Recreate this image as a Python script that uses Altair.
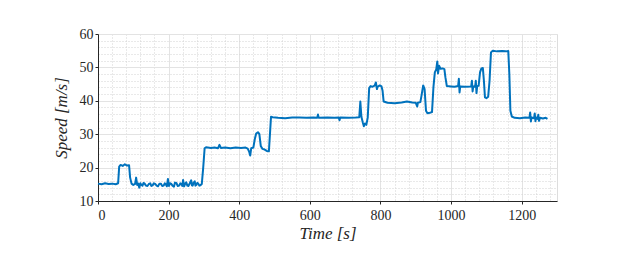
import altair as alt
import pandas as pd

times = [0,10,20,30,40,50,57,
         60,64,70,76,82,88,91,95,
         100,105,108,111,114,117,120,123,126,129,132,136,140,144,148,151,155,158,162,166,170,174,178,182,186,189,192,195,198,201,204,207,211,215,218,222,226,230,233,236,239,241,244,247,250,253,256,260,264,266,268,271,274,276,278,281,284,287,290,294,
         298,302,306,320,330,340,344,348,360,375,390,405,418,424,428,431,434,440,444,448,453,457,461,466,472,478,484,
         487,490,495,510,530,550,570,590,610,621,623,625,650,670,682,684,686,710,730,740,743,746,750,753,756,760,764,
         768,772,778,784,787,790,792,798,803,806,809,820,840,860,875,890,900,904,906,913,917,921,925,929,933,940,946,
         950,954,958,961,963,966,970,976,981,984,988,1000,1010,1020,1022,1024,1026,1040,1057,1059,1061,1063,1068,1070,1072,1074,1078,1082,1086,1090,1093,1096,1100,1105,1109,
         1113,1118,1130,1145,1155,1162,1165,1168,1172,1180,1195,1210,1222,1224,1226,1228,1235,1237,1239,1241,1245,1247,1249,1252,1260,1268,1273]
speeds = [15.2,15.0,15.3,15.1,15.2,15.0,15.3,
          20.3,20.8,20.5,21.0,20.6,20.7,17.0,15.2,
          14.8,15.1,17.0,14.8,15.2,14.0,15.3,14.8,14.6,15.4,15.2,14.6,14.5,15.1,15.3,14.5,14.7,15.3,15.1,14.6,14.4,15.2,15.2,14.5,14.6,15.3,15.0,14.4,16.6,14.5,15.3,15.2,14.6,14.3,15.5,15.4,14.5,14.6,15.3,15.1,14.5,16.3,14.4,15.2,15.6,14.6,14.5,15.3,16.2,14.7,14.6,15.5,15.9,14.6,14.8,15.4,15.2,14.6,14.7,15.1,
          20.0,25.8,26.1,25.9,26.0,25.8,26.8,25.9,26.0,25.8,26.0,25.9,26.0,25.7,24.8,23.6,25.8,26.0,28.5,30.2,30.6,30.0,26.5,25.6,25.4,25.0,24.9,
          30.0,35.2,35.1,34.9,34.8,35.0,35.0,34.9,35.0,34.9,35.9,34.9,35.0,34.9,35.0,34.2,35.0,34.9,35.0,35.1,39.8,35.2,33.5,32.4,33.2,32.8,35.0,
          43.8,44.4,44.2,44.6,45.5,43.5,44.2,44.6,44.3,43.0,39.8,39.4,39.3,39.5,39.8,39.5,39.4,38.3,39.4,39.6,42.0,44.6,43.5,37.0,36.3,36.4,36.6,
          44.0,48.5,49.4,51.8,48.2,50.5,49.6,49.7,49.5,47.0,44.4,44.3,44.2,44.4,46.6,42.5,44.3,44.2,44.3,46.0,42.8,44.3,44.2,46.0,42.3,44.4,44.5,48.5,49.7,49.8,46.0,41.0,40.8,41.2,46.0,
          54.5,55.0,54.8,54.9,54.8,54.9,48.0,37.0,35.3,34.9,34.8,35.0,34.9,36.5,33.8,35.0,34.8,36.2,33.9,35.0,34.6,35.8,34.0,34.9,34.7,34.9,34.6]

x_major = [0, 200, 400, 600, 800, 1000, 1200]
y_major = [10, 20, 30, 40, 50, 60]
x_minor = [v for v in range(40, 1300, 40) if v % 200 != 0]
y_minor = [v for v in range(12, 60, 2) if v % 10 != 0]

df = pd.DataFrame({"t": times, "v": speeds})

FONT = "'Liberation Serif', 'Times New Roman', 'DejaVu Serif', serif"
xscale = alt.Scale(domain=[0, 1300], nice=False, zero=False)
yscale = alt.Scale(domain=[10, 60], nice=False, zero=False)

minor = alt.Chart(df).mark_line(opacity=0).encode(
    x=alt.X("t:Q", scale=xscale,
            axis=alt.Axis(values=x_minor, grid=True, gridDash=[1, 2], gridColor="#d2d2d2",
                          gridWidth=1, labels=False, ticks=False, domain=False, title=None,
                          orient="bottom")),
    y=alt.Y("v:Q", scale=yscale,
            axis=alt.Axis(values=y_minor, grid=True, gridDash=[1, 2], gridColor="#d2d2d2",
                          gridWidth=1, labels=False, ticks=False, domain=False, title=None,
                          orient="left")),
)

main = alt.Chart(df).mark_line(color="#0072BD", strokeWidth=2, strokeJoin="round").encode(
    x=alt.X("t:Q", scale=xscale,
            axis=alt.Axis(values=x_major, format="d", grid=True, gridColor="#e3e3e3", gridWidth=1,
                          domainColor="#262626", tickColor="#262626", tickSize=3,
                          labelFont=FONT, labelFontSize=14, labelColor="#262626", labelPadding=4,
                          title="Time [s]", titleFont=FONT, titleFontStyle="italic",
                          titleFontWeight="normal", titleFontSize=17, titleColor="#262626",
                          titlePadding=3, orient="bottom")),
    y=alt.Y("v:Q", scale=yscale,
            axis=alt.Axis(values=y_major, format="d", grid=True, gridColor="#e3e3e3", gridWidth=1,
                          domainColor="#262626", tickColor="#262626", tickSize=3,
                          labelFont=FONT, labelFontSize=14, labelColor="#262626", labelPadding=2,
                          title="Speed [m/s]", titleFont=FONT, titleFontStyle="italic",
                          titleFontWeight="normal", titleFontSize=17, titleColor="#262626",
                          titlePadding=9, orient="left")),
)

chart = alt.layer(minor, main).resolve_axis(x="independent", y="independent").properties(
    width=459, height=167,
    autosize=alt.AutoSizeParams(type="none"),
    padding={"left": 90, "top": 26, "right": 70, "bottom": 52},
).configure_view(stroke="#d0d0d0").configure(background="white")

chart.save("out.html", embed_options={"renderer": "svg", "actions": False})
